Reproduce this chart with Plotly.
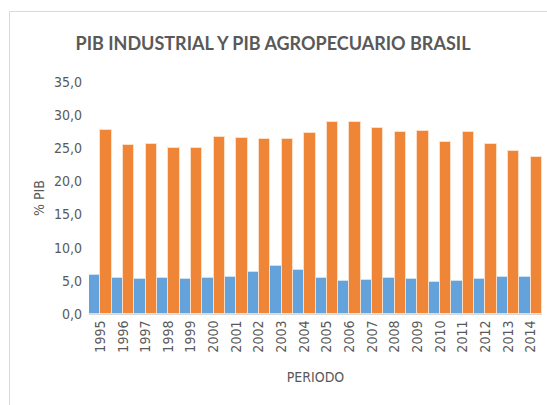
import plotly.graph_objects as go

years = [str(y) for y in range(1995, 2015)]
pib_industrial = [5.9, 5.5, 5.3, 5.4, 5.3, 5.4, 5.6, 6.4, 7.2, 6.7,
                  5.5, 5.0, 5.2, 5.4, 5.3, 4.9, 5.0, 5.3, 5.6, 5.6]
pib_agro = [27.8, 25.5, 25.7, 25.1, 25.1, 26.7, 26.6, 26.4, 26.4, 27.3,
            29.0, 28.9, 28.1, 27.4, 27.6, 25.9, 27.5, 25.7, 24.6, 23.7]
y_ticks = [0, 5, 10, 15, 20, 25, 30, 35]

FONT = "DejaVu Sans Condensed, Lato, sans-serif"
TITLE_FONT = "Lato, sans-serif"
GRAY = "#595959"

fig = go.Figure()
fig.add_trace(go.Bar(x=years, y=pib_industrial, name="PIB Industrial",
                     marker=dict(color="#63A2DA", line=dict(color="rgba(255,255,255,0.35)", width=1))))
fig.add_trace(go.Bar(x=years, y=pib_agro, name="PIB Agropecuario",
                     marker=dict(color="#EE8537", line=dict(color="rgba(255,230,210,0.8)", width=1))))

W, H = 547, 405
L, R, T, B = 89, 5, 82, 91
pw, ph = W - L - R, H - T - B

def px2paper_x(px):
    return (px - L) / pw

def px2paper_y(py):
    return (H - B - py) / ph

fig.update_layout(
    width=W, height=H,
    margin=dict(l=L, r=R, t=T, b=B),
    paper_bgcolor="white", plot_bgcolor="white",
    barmode="group", bargap=0, bargroupgap=0,
    showlegend=False,
    separators=",.",
    font=dict(family=FONT, color=GRAY, size=13),
    title=dict(text="<b>PIB INDUSTRIAL Y PIB AGROPECUARIO BRASIL</b>",
               x=273 / W, xanchor="center", y=1 - 44 / H, yanchor="middle",
               yref="container", xref="container",
               font=dict(family=TITLE_FONT, size=18, color=GRAY)),
    xaxis=dict(tickangle=-90, showline=True, linecolor="#D9D9D9", linewidth=1,
               ticks="", tickfont=dict(size=14, color=GRAY),
               title=dict(text="PERIODO", font=dict(size=14, color=GRAY), standoff=20),
               showgrid=False),
    yaxis=dict(range=[0, 35], tickvals=y_ticks, tickformat=".1f", showgrid=False,
               zeroline=False, showline=False, ticks="",
               tickfont=dict(size=14, color=GRAY), ticklabelstandoff=6,
               title=dict(text="% PIB", font=dict(size=14, color=GRAY), standoff=6)),
    shapes=[dict(type="rect", xref="paper", yref="paper",
                 x0=px2paper_x(9.5), x1=px2paper_x(570),
                 y0=px2paper_y(430), y1=px2paper_y(11.5),
                 line=dict(color="#D9D9D9", width=1), fillcolor="rgba(0,0,0,0)",
                 layer="below")],
)

fig.write_html("out.html", config={"displayModeBar": False},
               post_script="document.body.style.margin='0';document.body.style.overflow='hidden';")
